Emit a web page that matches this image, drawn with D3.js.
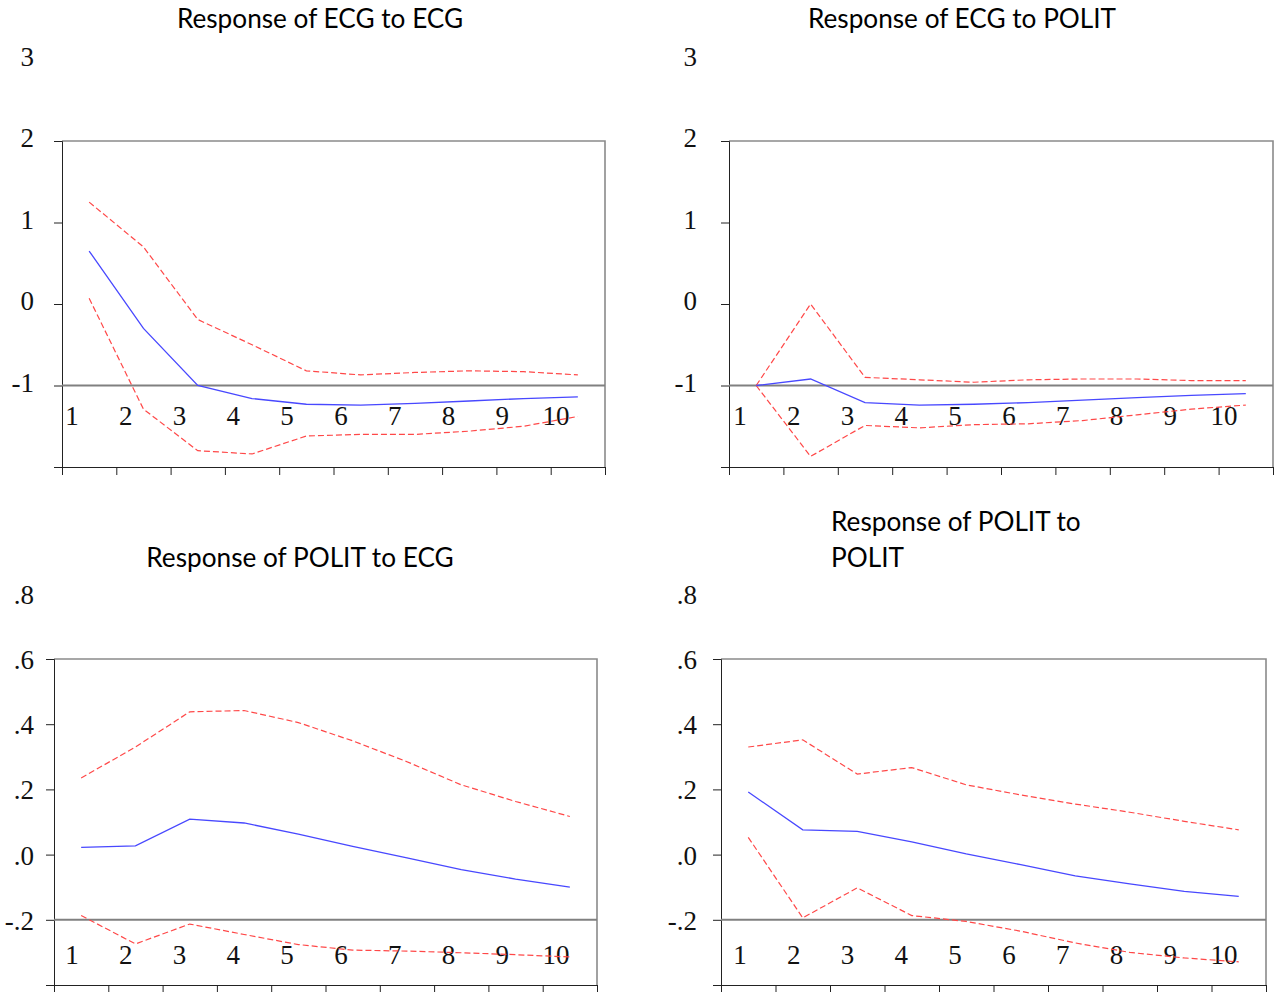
<!DOCTYPE html>
<html>
<head>
<meta charset="utf-8">
<script src="https://cdn.jsdelivr.net/npm/d3@7"></script>
<style>
  body { margin: 0; background: #fff; }
  svg { display: block; }
  .title { font-family: Lato, "Open Sans", sans-serif; font-size: 26.2px; fill: #000; }
  .lbl { font-family: "Liberation Serif", "DejaVu Serif", serif; font-size: 27px; fill: #111; }
</style>
</head>
<body>
<svg id="chart" width="1281" height="992"></svg>
<script>
// horizons 1..10
const STEPS = [1, 2, 3, 4, 5, 6, 7, 8, 9, 10]

// Response of ECG to ECG
const ecgEcg = [0.65, -0.30, -1.00, -1.16, -1.23, -1.24, -1.22, -1.19, -1.16, -1.14]
const ecgEcgHi = [1.25, 0.70, -0.19, -0.50, -0.82, -0.87, -0.84, -0.82, -0.83, -0.87]
const ecgEcgLo = [0.07, -1.29, -1.80, -1.84, -1.62, -1.60, -1.60, -1.56, -1.50, -1.38]

// Response of ECG to POLIT
const ecgPol = [-1.00, -0.92, -1.21, -1.24, -1.23, -1.21, -1.18, -1.15, -1.12, -1.10]
const ecgPolHi = [-1.00, 0.00, -0.90, -0.93, -0.96, -0.93, -0.92, -0.92, -0.94, -0.94]
const ecgPolLo = [-1.00, -1.87, -1.49, -1.52, -1.48, -1.47, -1.43, -1.36, -1.29, -1.24]

// Response of POLIT to ECG
const polEcg = [0.022, 0.027, 0.109, 0.097, 0.063, 0.025, -0.010, -0.046, -0.075, -0.100]
const polEcgHi = [0.235, 0.330, 0.438, 0.442, 0.405, 0.349, 0.285, 0.214, 0.163, 0.117]
const polEcgLo = [-0.187, -0.274, -0.213, -0.245, -0.276, -0.293, -0.296, -0.301, -0.307, -0.314]

// Response of POLIT to POLIT
const polPol = [0.192, 0.076, 0.071, 0.039, 0.002, -0.031, -0.065, -0.090, -0.113, -0.128]
const polPolHi = [0.330, 0.352, 0.247, 0.267, 0.214, 0.183, 0.155, 0.130, 0.102, 0.076]
const polPolLo = [0.053, -0.194, -0.102, -0.187, -0.205, -0.235, -0.271, -0.300, -0.317, -0.329]

// tick labels as printed
const TOP_TICKS = [3, 2, 1, 0, -1]
const BOTTOM_TICKS = [0.8, 0.6, 0.4, 0.2, 0.0, -0.2]

const fmtInt = d => String(d)
const fmtDec = d => (d < 0 ? '-' : '') + '.' + String(Math.round(Math.abs(d) * 10))

const panels = [
  {
    title: ['Response of ECG to ECG'], titleX: 320, titleY: 28, anchor: 'middle',
    box: { left: 62, right: 605, top: 141, bottom: 467 },
    yDomain: [-2, 2], yTicks: [2, 1, 0, -1, -2], labels: TOP_TICKS, fmt: fmtInt, labDy: 6,
    refLine: -1, labelRight: 34, stepX0: 72, stepY: 425,
    mid: ecgEcg, hi: ecgEcgHi, lo: ecgEcgLo
  },
  {
    title: ['Response of ECG to POLIT'], titleX: 962, titleY: 28, anchor: 'middle',
    box: { left: 729, right: 1273, top: 141, bottom: 467 },
    yDomain: [-2, 2], yTicks: [2, 1, 0, -1, -2], labels: TOP_TICKS, fmt: fmtInt, labDy: 6,
    refLine: -1, labelRight: 697, stepX0: 740, stepY: 425,
    mid: ecgPol, hi: ecgPolHi, lo: ecgPolLo
  },
  {
    title: ['Response of POLIT to ECG'], titleX: 300, titleY: 567, anchor: 'middle',
    box: { left: 54, right: 597, top: 659, bottom: 985 },
    yDomain: [-0.4, 0.6], yTicks: [0.6, 0.4, 0.2, 0.0, -0.2, -0.4], labels: BOTTOM_TICKS, fmt: fmtDec, labDy: 10,
    refLine: -0.2, labelRight: 34, stepX0: 72, stepY: 964,
    mid: polEcg, hi: polEcgHi, lo: polEcgLo
  },
  {
    title: ['Response of POLIT to', 'POLIT'], titleX: 831, titleY: 531, anchor: 'start',
    box: { left: 721, right: 1266, top: 659, bottom: 985 },
    yDomain: [-0.4, 0.6], yTicks: [0.6, 0.4, 0.2, 0.0, -0.2, -0.4], labels: BOTTOM_TICKS, fmt: fmtDec, labDy: 10,
    refLine: -0.2, labelRight: 697, stepX0: 740, stepY: 964,
    mid: polPol, hi: polPolHi, lo: polPolLo
  }
]

const svg = d3.select('#chart')

panels.forEach(p => {
  const g = svg.append('g')
  const b = p.box

  const x = d3.scaleLinear().domain([0.5, 10.5]).range([b.left, b.right])
  const y = d3.scaleLinear().domain(p.yDomain).range([b.bottom, b.top])
  // where the horizon numbers get printed
  const xLab = d3.scaleLinear().domain([1, 10]).range([p.stepX0, p.stepX0 + 484])

  // title
  const t = g.append('text').attr('class', 'title')
    .attr('x', p.titleX).attr('y', p.titleY)
    .attr('text-anchor', p.anchor)
  p.title.forEach((line, i) => {
    t.append('tspan').attr('x', p.titleX).attr('dy', i ? 36 : 0).text(line)
  })

  // frame: top and right in grey
  g.append('path')
    .attr('d', `M${b.left},${b.top}H${b.right}V${b.bottom}`)
    .attr('fill', 'none').attr('stroke', '#8a8a8a').attr('stroke-width', 1.6)

  // left axis
  g.append('g')
    .attr('transform', `translate(${b.left},0)`)
    .call(d3.axisLeft(y).tickValues(p.yTicks).tickSize(8).tickFormat(''))
    .call(a => a.select('.domain').attr('stroke', '#222'))
    .call(a => a.selectAll('.tick line').attr('stroke', '#222'))

  // bottom axis (11 ticks, boundaries between horizons)
  g.append('g')
    .attr('transform', `translate(0,${b.bottom})`)
    .call(d3.axisBottom(x).tickValues(d3.range(0.5, 11, 1)).tickSize(8).tickSizeOuter(0).tickFormat(''))
    .call(a => a.select('.domain').attr('stroke', '#222'))
    .call(a => a.selectAll('.tick line').attr('stroke', '#222'))

  // y labels
  g.selectAll('.ylab').data(p.labels).join('text')
    .attr('class', 'lbl ylab')
    .attr('x', p.labelRight)
    .attr('y', d => y(d) + p.labDy)
    .attr('text-anchor', 'end')
    .text(p.fmt)

  // reference line
  g.append('line')
    .attr('x1', b.left).attr('x2', b.right)
    .attr('y1', y(p.refLine)).attr('y2', y(p.refLine))
    .attr('stroke', '#808080').attr('stroke-width', 2)

  // horizon numbers
  g.selectAll('.xlab').data(STEPS).join('text')
    .attr('class', 'lbl xlab')
    .attr('x', d => xLab(d))
    .attr('y', p.stepY)
    .attr('text-anchor', 'middle')
    .text(d => d)

  const line = d3.line().x((d, i) => x(STEPS[i])).y(d => y(d))

  g.append('path').datum(p.hi).attr('d', line)
    .attr('fill', 'none').attr('stroke', '#ff4848').attr('stroke-width', 1.2)
    .attr('stroke-dasharray', '6,3')
  g.append('path').datum(p.lo).attr('d', line)
    .attr('fill', 'none').attr('stroke', '#ff4848').attr('stroke-width', 1.2)
    .attr('stroke-dasharray', '6,3')
  g.append('path').datum(p.mid).attr('d', line)
    .attr('fill', 'none').attr('stroke', '#4848ff').attr('stroke-width', 1.3)
})
</script>
</body>
</html>
